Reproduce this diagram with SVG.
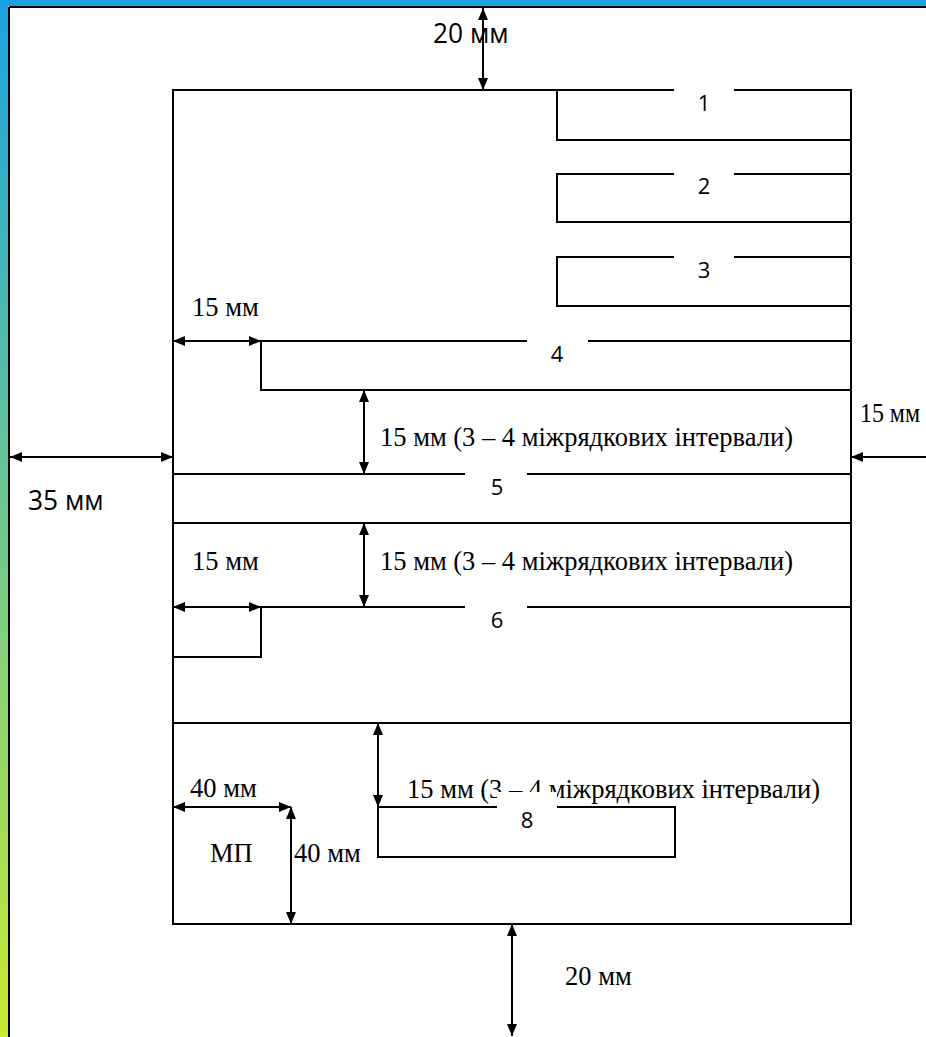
<svg xmlns="http://www.w3.org/2000/svg" width="926" height="1037" viewBox="0 0 926 1037">
<defs>
<linearGradient id="lg" x1="0" y1="0" x2="0" y2="1">
<stop offset="0" stop-color="#1aa3e2"/>
<stop offset="0.5" stop-color="#6cc88f"/>
<stop offset="1" stop-color="#c8ea32"/>
</linearGradient>
<marker id="ah" viewBox="0 0 12 10" refX="12" refY="5" markerWidth="12" markerHeight="10" markerUnits="userSpaceOnUse" orient="auto-start-reverse">
<path d="M0,0 L12,5 L0,10 Z" fill="#000"/>
</marker>
<style>
.ln{stroke:#000;stroke-width:2;fill:none}
.ar{stroke:#000;stroke-width:2;fill:none;marker-start:url(#ah);marker-end:url(#ah)}
.ar1{stroke:#000;stroke-width:2;fill:none;marker-end:url(#ah)}
.tm{font-family:"Liberation Serif","Times New Roman",serif;font-size:26.5px;fill:#000}
.os{font-family:"Open Sans","Liberation Sans",sans-serif;font-size:28px;fill:#000}
.nm{font-family:"Open Sans","Liberation Sans",sans-serif;font-size:22px;fill:#000;text-anchor:middle}
.wb{fill:#fff}
</style>
</defs>
<rect x="0" y="0" width="926" height="1037" fill="#fff"/>
<rect x="0" y="0" width="926" height="6" fill="#1aa3e2"/>
<rect x="0" y="0" width="8" height="1037" fill="url(#lg)"/>
<rect x="0" y="0" width="8" height="6" fill="#1aa3e2"/>
<line x1="9" y1="7" x2="926" y2="7" stroke="#000" stroke-width="2"/>
<line x1="9" y1="7" x2="9" y2="1037" stroke="#000" stroke-width="2"/>

<g id="page">
<rect class="ln" x="173" y="90" width="678" height="834"/>
</g>
<g id="node1">
<polyline class="ln" points="851,90 557,90 557,140 851,140"/>
<rect class="wb" x="674" y="86" width="60" height="8"/>
<text class="nm" x="704" y="111">1</text>
</g>
<g id="node2">
<polyline class="ln" points="674,174 557,174 557,222 851,222"/>
<line class="ln" x1="734" y1="174" x2="851" y2="174"/>
<text class="nm" x="704" y="194">2</text>
</g>
<g id="node3">
<polyline class="ln" points="674,257 557,257 557,306 851,306"/>
<line class="ln" x1="734" y1="257" x2="851" y2="257"/>
<text class="nm" x="704" y="278">3</text>
</g>
<g id="node4">
<polyline class="ln" points="527,341 261,341 261,390 851,390"/>
<line class="ln" x1="588" y1="341" x2="851" y2="341"/>
<text class="nm" x="557" y="362">4</text>
</g>
<g id="node5">
<line class="ln" x1="173" y1="474" x2="465" y2="474"/>
<line class="ln" x1="527" y1="474" x2="851" y2="474"/>
<line class="ln" x1="173" y1="523" x2="851" y2="523"/>
<text class="nm" x="497" y="495">5</text>
</g>
<g id="node6">
<polyline class="ln" points="465,607 261,607 261,657 173,657"/>
<line class="ln" x1="527" y1="607" x2="851" y2="607"/>
<line class="ln" x1="173" y1="723" x2="851" y2="723"/>
<text class="nm" x="497" y="628">6</text>
</g>

<g id="connectors">
<line class="ar" x1="483" y1="8" x2="483" y2="90"/>
<line class="ar" x1="173" y1="341" x2="261" y2="341"/>
<line class="ar" x1="364" y1="390" x2="364" y2="474"/>
<line class="ar" x1="10" y1="457" x2="173" y2="457"/>
<line class="ar1" x1="926" y1="457" x2="851" y2="457"/>
<line class="ar" x1="364" y1="523" x2="364" y2="607"/>
<line class="ar" x1="173" y1="607" x2="261" y2="607"/>
<line class="ar" x1="378" y1="723" x2="378" y2="807"/>
<line class="ar" x1="173" y1="807" x2="291" y2="807"/>
<line class="ar" x1="291" y1="807" x2="291" y2="924"/>
<line class="ar" x1="512" y1="924" x2="512" y2="1036"/>
</g>

<g id="labels">
<text class="os" transform="translate(433,43) scale(0.94,1)">20 мм</text>
<text class="tm" x="192" y="316">15 мм</text>
<text class="tm" x="380" y="446">15 мм (3 – 4 міжрядкових інтервали)</text>
<text class="tm" x="860" y="422" textLength="60" lengthAdjust="spacingAndGlyphs">15 мм</text>
<text class="os" transform="translate(28,510) scale(0.94,1)">35 мм</text>
<text class="tm" x="192" y="570">15 мм</text>
<text class="tm" x="380" y="570">15 мм (3 – 4 міжрядкових інтервали)</text>
<text class="tm" x="407" y="798">15 мм (3 – 4 міжрядкових інтервали)</text>
<text class="tm" x="190" y="797">40 мм</text>
<text class="tm" x="210" y="862">МП</text>
<text class="tm" x="294" y="862">40 мм</text>
<text class="tm" x="565" y="985">20 мм</text>
</g>

<g id="node8">
<rect class="wb" x="497" y="792" width="60" height="40"/>
<polyline class="ln" points="497,807 378,807 378,857 675,857 675,807 557,807"/>
<text class="nm" x="527" y="828">8</text>
</g>
</svg>
